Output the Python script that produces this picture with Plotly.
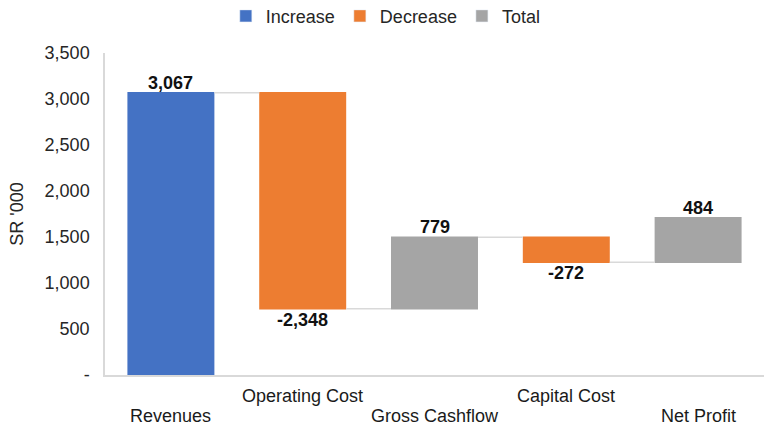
import plotly.graph_objects as go
from itertools import accumulate

# Cash-flow steps (SR '000)
categories = ["Revenues", "Operating Cost", "Gross Cashflow", "Capital Cost", "Net Profit"]
values = [3067, -2348, 779, -272, 484]
measures = ["absolute", "relative", "relative", "relative", "relative"]
# staggered category labels: 1 = lower row, 0 = upper row
label_rows = [1, 0, 1, 0, 1]
y_ticks = [0, 500, 1000, 1500, 2000, 2500, 3000, 3500]
y_tick_labels = ["-", "500", "1,000", "1,500", "2,000", "2,500", "3,000", "3,500"]

BLUE = "#4472C4"
ORANGE = "#ED7D31"
GREY = "#A5A5A5"
FONT = "Liberation Sans, Arial, sans-serif"
FS = 18

fig = go.Figure()

fig.add_trace(go.Waterfall(
    x=categories,
    y=values,
    measure=measures,
    totals=dict(marker=dict(color=BLUE)),
    increasing=dict(marker=dict(color=GREY)),
    decreasing=dict(marker=dict(color=ORANGE)),
    connector=dict(mode="between", line=dict(color="#D9D9D9", width=1.5)),
    showlegend=False,
    hoverinfo="x+y",
))

# legend entries
for name, color in [("Increase", BLUE), ("Decrease", ORANGE), ("Total", GREY)]:
    fig.add_trace(go.Bar(x=[None], y=[None], name=name, marker_color=color, showlegend=True))

# value labels placed just beyond the end of each step
running = list(accumulate(values))
for cat, v, end in zip(categories, values, running):
    fig.add_annotation(
        x=cat, y=end,
        yanchor="middle",
        yshift=10 if v >= 0 else -11,
        text=f"<b>{v:,}</b>",
        showarrow=False,
        font=dict(family=FONT, size=FS, color="#111111"),
    )

# category labels in two staggered rows under the axis
for cat, row in zip(categories, label_rows):
    fig.add_annotation(
        x=cat, xref="x",
        y=0, yref="paper",
        yanchor="middle",
        yshift=-21 - 20 * row,
        text=cat,
        showarrow=False,
        font=dict(family=FONT, size=FS, color="#1a1a1a"),
    )

fig.update_layout(
    width=764,
    height=426,
    margin=dict(l=105, r=0, t=53, b=51),
    paper_bgcolor="white",
    plot_bgcolor="white",
    font=dict(family=FONT, size=FS, color="#262626"),
    waterfallgap=0.34,
    legend=dict(
        orientation="h",
        x=0.505,
        xanchor="center",
        xref="container",
        y=0.962,
        yanchor="middle",
        yref="container",
        font=dict(size=FS, color="#262626"),
        itemclick=False,
    ),
)

fig.update_xaxes(
    showline=True,
    linecolor="#D9D9D9",
    linewidth=1.5,
    showgrid=False,
    ticks="",
    showticklabels=False,
    automargin=False,
)

fig.update_yaxes(
    range=[0, 3500],
    tickvals=y_ticks,
    ticktext=y_tick_labels,
    showline=True,
    linecolor="#D9D9D9",
    linewidth=1.5,
    showgrid=False,
    zeroline=False,
    ticks="",
    ticklabelstandoff=10,
    tickfont=dict(size=FS, color="#262626"),
    automargin=False,
    title=dict(text="SR '000", font=dict(size=FS, color="#262626"), standoff=16),
)

fig.write_html("out.html")
